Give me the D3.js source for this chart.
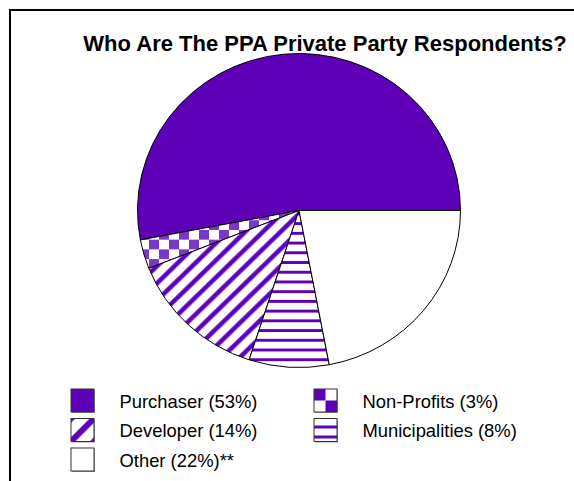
<!DOCTYPE html>
<html>
<head>
<meta charset="utf-8">
<script src="https://cdn.jsdelivr.net/npm/d3@7/dist/d3.min.js"></script>
<style>
  html, body { margin: 0; padding: 0; background: #fff; }
  svg { display: block; font-family: "Liberation Sans", Arial, sans-serif; }
</style>
</head>
<body>
<svg id="chart" width="574" height="481"></svg>
<script>
// Respondent groups, in drawing order (counter-clockwise from 3 o'clock)
const categories = ["Purchaser", "Non-Profits", "Developer", "Municipalities", "Other"];
const shares = [53, 3, 14, 8, 22];
const legendLabels = ["Purchaser (53%)", "Non-Profits (3%)", "Developer (14%)", "Municipalities (8%)", "Other (22%)**"];
const fills = ["solid", "checker", "diagonal", "horizontal", "none"];
const titleText = "Who Are The PPA Private Party Respondents?";

const purple = "#5f00b9";
const purpleLight = "#7a38c8";

const svg = d3.select("#chart");
const defs = svg.append("defs");

// Pie patterns
const ck = 10;
const checker = defs.append("pattern").attr("id", "p-checker")
  .attr("patternUnits", "userSpaceOnUse").attr("width", 2 * ck).attr("height", 2 * ck);
checker.append("rect").attr("width", 2 * ck).attr("height", 2 * ck).attr("fill", "#fff");
checker.append("rect").attr("width", ck).attr("height", ck).attr("fill", purpleLight);
checker.append("rect").attr("x", ck).attr("y", ck).attr("width", ck).attr("height", ck).attr("fill", purpleLight);

const dp = 12.5;
const diag = defs.append("pattern").attr("id", "p-diagonal")
  .attr("patternUnits", "userSpaceOnUse").attr("width", dp).attr("height", dp)
  .attr("patternTransform", "rotate(45)");
diag.append("rect").attr("width", dp).attr("height", dp).attr("fill", "#fff");
diag.append("rect").attr("x", 0).attr("width", 5).attr("height", dp).attr("fill", purpleLight);
diag.append("rect").attr("x", 1).attr("width", 3).attr("height", dp).attr("fill", purple);

const horiz = defs.append("pattern").attr("id", "p-horizontal")
  .attr("patternUnits", "userSpaceOnUse").attr("width", 10).attr("height", 10)
  .attr("y", 2);
horiz.append("rect").attr("width", 10).attr("height", 10).attr("fill", "#fff");
horiz.append("rect").attr("y", 0).attr("width", 10).attr("height", 3).attr("fill", purple);

// Legend swatch patterns (sized to the swatch)
const sw = 23;
const lChecker = defs.append("pattern").attr("id", "l-checker")
  .attr("patternUnits", "objectBoundingBox").attr("width", 1).attr("height", 1);
lChecker.append("rect").attr("width", sw).attr("height", sw).attr("fill", "#fff");
lChecker.append("rect").attr("width", sw / 2).attr("height", sw / 2).attr("fill", purple);
lChecker.append("rect").attr("x", sw / 2).attr("y", sw / 2).attr("width", sw / 2).attr("height", sw / 2).attr("fill", purple);

const lDiag = defs.append("pattern").attr("id", "l-diagonal")
  .attr("patternUnits", "objectBoundingBox").attr("width", 1).attr("height", 1);
lDiag.append("rect").attr("width", sw).attr("height", sw).attr("fill", "#fff");
lDiag.append("line").attr("x1", -2).attr("y1", sw + 2).attr("x2", sw + 2).attr("y2", -2)
  .attr("stroke", purple).attr("stroke-width", 6);
lDiag.append("line").attr("x1", sw - 3).attr("y1", sw + 3).attr("x2", sw + 3).attr("y2", sw - 3)
  .attr("stroke", purple).attr("stroke-width", 6);
lDiag.append("line").attr("x1", -3).attr("y1", 3).attr("x2", 3).attr("y2", -3)
  .attr("stroke", purple).attr("stroke-width", 6);

const lHoriz = defs.append("pattern").attr("id", "l-horizontal")
  .attr("patternUnits", "objectBoundingBox").attr("width", 1).attr("height", 1);
lHoriz.append("rect").attr("width", sw).attr("height", sw).attr("fill", "#fff");
lHoriz.append("rect").attr("y", 7).attr("width", sw).attr("height", 3).attr("fill", purple);
lHoriz.append("rect").attr("y", 17).attr("width", sw).attr("height", 3).attr("fill", purple);

function pieFill(kind) {
  if (kind === "solid") return purple;
  if (kind === "none") return "#fff";
  return "url(#p-" + kind + ")";
}
function legendFill(kind) {
  if (kind === "solid") return purple;
  if (kind === "none") return "#fff";
  return "url(#l-" + kind + ")";
}

// Frame lines
svg.append("line").attr("x1", 10).attr("y1", 9).attr("x2", 10).attr("y2", 481)
  .attr("stroke", "#000").attr("stroke-width", 2);
svg.append("line").attr("x1", 9).attr("y1", 10).attr("x2", 574).attr("y2", 10)
  .attr("stroke", "#000").attr("stroke-width", 2);

// Title
svg.append("text").attr("x", 325).attr("y", 51).attr("text-anchor", "middle")
  .attr("font-size", 22).attr("font-weight", "bold").attr("fill", "#000")
  .text(titleText);

// Pie, counter-clockwise from the 3 o'clock position, slightly flattened
const cx = 299, cy = 210.5, rx = 161.5, ry = 157;
const pie = d3.pie().sort(null).value(d => d)
  .startAngle(Math.PI / 2).endAngle(Math.PI / 2 - 2 * Math.PI);
const arc = d3.arc().innerRadius(0).outerRadius(rx);

const g = svg.append("g").attr("transform", `translate(${cx},${cy}) scale(1,${ry / rx})`);
g.selectAll("path.slice")
  .data(pie(shares))
  .join("path")
  .attr("class", "slice")
  .attr("d", arc)
  .attr("fill", (d, i) => pieFill(fills[i]))
  .attr("stroke", "#000")
  .attr("stroke-width", 1)
  .attr("vector-effect", "non-scaling-stroke")
  .attr("stroke-linejoin", "round");

// Legend: two columns
const legendPos = [
  { col: 0, row: 0 }, { col: 1, row: 0 },
  { col: 0, row: 1 }, { col: 1, row: 1 },
  { col: 0, row: 2 }
];
const colX = d3.scaleOrdinal().domain([0, 1]).range([71, 314]);
const rowY = d3.scaleLinear().domain([0, 1]).range([389, 418.5]);

const items = svg.append("g").selectAll("g.item")
  .data(categories)
  .join("g")
  .attr("class", "item")
  .attr("transform", (d, i) => `translate(${colX(legendPos[i].col)},${rowY(legendPos[i].row)})`);

items.append("rect")
  .attr("x", 1).attr("y", 1).attr("width", sw).attr("height", sw)
  .attr("fill", "#9a9a9a");
items.append("rect")
  .attr("width", sw).attr("height", sw)
  .attr("fill", (d, i) => legendFill(fills[i]))
  .attr("stroke", "#333").attr("stroke-width", 1);

items.append("text")
  .attr("x", 48.5).attr("y", 18.5)
  .attr("font-size", 18.4).attr("fill", "#000")
  .text((d, i) => legendLabels[i]);
</script>
</body>
</html>
